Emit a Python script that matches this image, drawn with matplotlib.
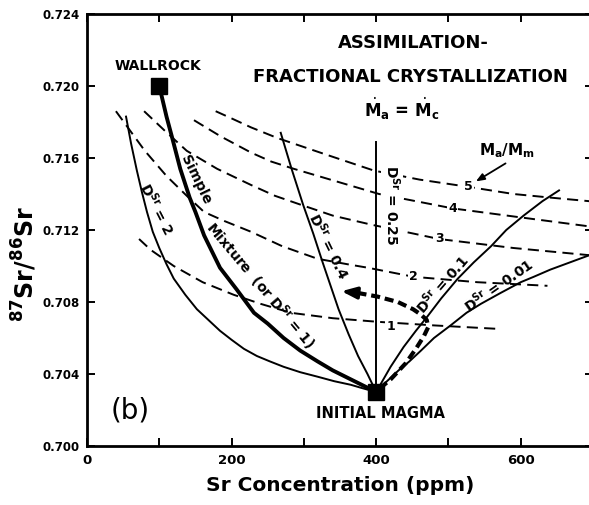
import matplotlib
matplotlib.use("Agg")
import matplotlib.pyplot as plt

plt.rcParams['font.family'] = ['DejaVu Sans']
plt.rcParams['mathtext.fontset'] = 'dejavusans'
plt.rcParams['lines.scale_dashes'] = False

# ---------------- data ----------------
wallrock = (100, 0.720)
initial_magma = (400, 0.703)

mix_x = [100, 110, 118, 129, 142, 150, 162, 184, 207, 231, 250, 272, 295, 319, 340, 365, 385, 400]
mix_y = [0.7200, 0.7183, 0.7171, 0.7154, 0.7138, 0.7130, 0.7117, 0.7099, 0.7087, 0.7074, 0.7068,
         0.7060, 0.7053, 0.7047, 0.7042, 0.7037, 0.7033, 0.7030]

d2_x = [54, 61, 69, 76, 83, 91, 100, 110, 120, 136, 152, 168, 184, 200, 217, 235, 253, 272, 295, 319,
        342, 365, 382, 400]
d2_y = [0.7183, 0.7168, 0.7153, 0.7141, 0.7130, 0.7119, 0.7110, 0.7101, 0.7093, 0.7084, 0.7076, 0.7070,
        0.7064, 0.7059, 0.7054, 0.7050, 0.7047, 0.7044, 0.7041, 0.70385, 0.7036, 0.7034, 0.7032, 0.7030]

d04_x = [268, 283, 299, 313, 326, 348, 362, 375, 388, 400]
d04_y = [0.7174, 0.7154, 0.7134, 0.7118, 0.7102, 0.7076, 0.7062, 0.7050, 0.7040, 0.7030]

d025_x = [400, 400]
d025_y = [0.7030, 0.7169]

d01_x = [400, 410, 420, 438, 455, 471, 490, 513, 535, 559, 580, 604, 630, 653]
d01_y = [0.7030, 0.7037, 0.7044, 0.7055, 0.7064, 0.7072, 0.7082, 0.7093, 0.7102, 0.7111, 0.7120,
         0.7128, 0.7136, 0.7142]

d001_x = [400, 415, 431, 446, 462, 480, 503, 525, 545, 572, 600, 618, 641, 668, 695]
d001_y = [0.7030, 0.7036, 0.7042, 0.7047, 0.7053, 0.7060, 0.7067, 0.7074, 0.7079, 0.7085, 0.7091,
          0.7094, 0.7098, 0.7102, 0.7106]

path_x = [405, 420, 441, 455, 466, 472, 470, 462, 451, 430, 402, 375]
path_y = [0.7032, 0.7037, 0.7046, 0.7054, 0.7061, 0.7066, 0.7070, 0.7073, 0.7076, 0.7080, 0.7083, 0.7085]
arrow_tip = (352, 0.7086)

r1_x = [72, 88, 120, 160, 203, 240, 282, 340, 402, 480, 572]
r1_y = [0.7115, 0.7109, 0.7100, 0.7091, 0.7084, 0.7079, 0.7074, 0.7071, 0.7069, 0.7067, 0.7065]
r2_x = [40, 80, 110, 138, 162, 190, 227, 270, 319, 360, 389, 452, 540, 637]
r2_y = [0.7186, 0.7164, 0.7150, 0.7139, 0.7130, 0.7125, 0.7119, 0.7111, 0.7104, 0.7101, 0.7099, 0.7094,
        0.7091, 0.7089]
r3_x = [79, 108, 138, 180, 227, 260, 296, 340, 393, 440, 487, 590, 695]
r3_y = [0.7186, 0.7175, 0.7164, 0.7154, 0.7145, 0.7139, 0.7134, 0.7128, 0.7123, 0.7119, 0.7115, 0.7110,
        0.7106]
r4_x = [148, 185, 227, 255, 286, 345, 404, 455, 506, 600, 695]
r4_y = [0.7181, 0.7172, 0.7163, 0.7158, 0.7154, 0.7147, 0.7140, 0.7136, 0.7132, 0.7127, 0.7122]
r5_x = [178, 200, 227, 264, 330, 397, 460, 527, 590, 641, 695]
r5_y = [0.7186, 0.7182, 0.7177, 0.7171, 0.7162, 0.7153, 0.7148, 0.7144, 0.7140, 0.7138, 0.7136]

ratio_labels = ['1', '2', '3', '4', '5']
ratio_label_x = [420, 452, 487, 506, 527]
ratio_label_y = [0.70665, 0.7094, 0.7115, 0.7132, 0.7144]

x_ticks = [0, 100, 200, 300, 400, 500, 600, 700]
x_ticklabels = ['0', '', '200', '', '400', '', '600', '']
y_ticks = [0.700, 0.704, 0.708, 0.712, 0.716, 0.720, 0.724]
y_ticklabels = ['0.700', '0.704', '0.708', '0.712', '0.716', '0.720', '0.724']

# ---------------- figure ----------------
fig = plt.figure(figsize=(5.89, 5.05), dpi=100)
ax = fig.add_axes([87/589, 59/505, 506/589, 432/505])
ax.set_xlim(0, 700)
ax.set_ylim(0.700, 0.724)

k = 'black'
thin = 1.4
dash = (0, (8, 4.5))

for xs, ys in [(r1_x, r1_y), (r2_x, r2_y), (r3_x, r3_y), (r4_x, r4_y), (r5_x, r5_y)]:
    ax.plot(xs, ys, color=k, lw=thin, linestyle=dash, zorder=2)

ax.plot(mix_x, mix_y, color=k, lw=2.8, solid_capstyle='round', solid_joinstyle='round', zorder=3)
for xs, ys in [(d2_x, d2_y), (d04_x, d04_y), (d025_x, d025_y), (d01_x, d01_y), (d001_x, d001_y)]:
    ax.plot(xs, ys, color=k, lw=thin, solid_joinstyle='round', zorder=3)

ax.plot(path_x, path_y, color=k, lw=3.0, linestyle=(0, (6.5, 3.5)), zorder=3)
ax.annotate('', xy=arrow_tip, xytext=(path_x[-1], path_y[-1]),
            arrowprops=dict(arrowstyle='-|>,head_length=0.9,head_width=0.35', color=k, lw=2.5,
                            shrinkA=0, shrinkB=0), zorder=4)

ax.plot(*wallrock, marker='s', color=k, markersize=12, zorder=5, clip_on=False)
ax.plot(*initial_magma, marker='s', color=k, markersize=11, zorder=5)

# ratio labels on dashed curves
for lab, lx, ly in zip(ratio_labels, ratio_label_x, ratio_label_y):
    ax.text(lx, ly, lab, fontsize=9, fontweight='bold', ha='center', va='center', zorder=4,
            bbox=dict(boxstyle='square,pad=0.1', fc='white', ec='none'))

# curve labels
lab_kw = dict(fontsize=10, fontweight='bold', ha='center', va='center', rotation_mode='anchor', zorder=4)
ax.text(97, 0.7132, r'D$^{\mathbf{Sr}}$ = 2', rotation=-63, **lab_kw)
ax.text(151, 0.7148, 'Simple', rotation=-64, **lab_kw)
ax.text(239, 0.7089, r'Mixture  (or D$^{\mathbf{Sr}}$ = 1)', rotation=-50, **lab_kw)
ax.text(335, 0.7111, r'D$^{\mathbf{Sr}}$ = 0.4', rotation=-64, **lab_kw)
ax.text(422, 0.7134, r'D$^{\mathbf{Sr}}$ = 0.25', rotation=-90,
        bbox=dict(boxstyle='square,pad=0.1', fc='white', ec='none'), **lab_kw)
ax.text(491, 0.7090, r'D$^{\mathbf{Sr}}$ = 0.1', rotation=49, **lab_kw)
ax.text(570, 0.7089, r'D$^{\mathbf{Sr}}$ = 0.01', rotation=35, **lab_kw)

ax.text(98, 0.7211, 'WALLROCK', fontsize=10, fontweight='bold', ha='center', va='center')
ax.text(406, 0.7018, 'INITIAL MAGMA', fontsize=10.5, fontweight='bold', ha='center', va='center')
ax.text(60, 0.7020, '(b)', fontsize=20, ha='center', va='center')

ax.text(452, 0.7224, 'ASSIMILATION-', fontsize=13, fontweight='bold', ha='center', va='center')
ax.text(448, 0.7205, 'FRACTIONAL CRYSTALLIZATION', fontsize=13, fontweight='bold', ha='center',
        va='center')
ax.text(436, 0.7187, r'$\dot{\mathbf{M}}_{\mathbf{a}}$ = $\dot{\mathbf{M}}_{\mathbf{c}}$', fontsize=12,
        fontweight='bold', ha='center', va='center')

ax.text(581, 0.7164, r'$\mathbf{M_a/M_m}$', fontsize=11, ha='center', va='center')
ax.annotate('', xy=(538, 0.7147), xytext=(579, 0.7157),
            arrowprops=dict(arrowstyle='-|>,head_length=0.5,head_width=0.2', color=k, lw=1.3,
                            shrinkA=0, shrinkB=0))

# axes styling
ax.set_xticks(x_ticks)
ax.set_xticklabels(x_ticklabels, fontsize=9.5, fontweight='bold')
ax.set_yticks(y_ticks)
ax.set_yticklabels(y_ticklabels, fontsize=8.5, fontweight='bold')
ax.tick_params(direction='in', top=True, right=True, length=6, width=1.4)
ax.tick_params(axis='x', pad=6)
ax.tick_params(axis='y', pad=5)
for s in ax.spines.values():
    s.set_linewidth(2.0)
ax.spines['right'].set_visible(False)

ax.set_xlabel('Sr Concentration (ppm)', fontsize=14.5, fontweight='bold', labelpad=6)
ax.set_ylabel(r'$^{\mathbf{87}}$Sr/$^{\mathbf{86}}$Sr', fontsize=17, fontweight='bold')
ax.yaxis.set_label_coords(-0.095, 0.42)

fig.savefig('out.png', dpi=100)
